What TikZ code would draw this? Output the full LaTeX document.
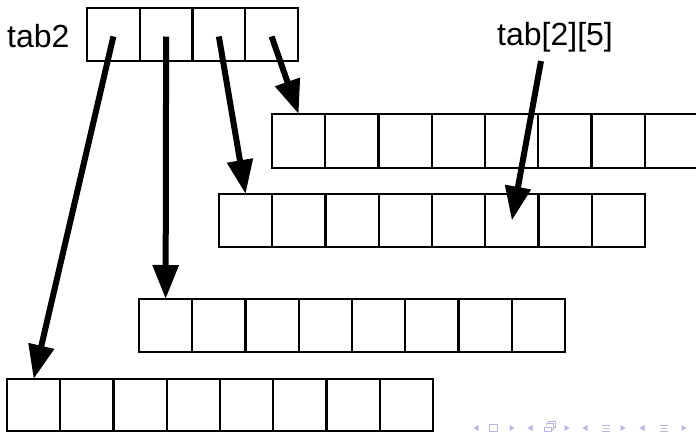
\documentclass[tikz,border=0pt]{standalone}
\usepackage{fontspec}
\setmainfont{Liberation Sans}
\usetikzlibrary{arrows.meta}
\definecolor{navcol}{rgb}{0.72,0.72,0.88}
\begin{document}
\begin{tikzpicture}[x=1pt,y=-1pt,
  cell/.style={draw,line width=2.4pt,minimum width=53.25pt,minimum height=53pt,inner sep=0pt,outer sep=0pt,anchor=north west},
  ptr/.style={line width=6pt,-{Triangle[length=34pt,width=25pt]}},
  lbl/.style={font=\fontsize{32}{38}\selectfont,inner sep=0pt,anchor=base west},
  navtri/.style={fill=navcol,draw=none},
  navln/.style={draw=navcol,line width=0.9pt}]
\useasboundingbox (0,0) rectangle (696,432);
% pointer array
\foreach \i in {1,...,4}
  \node[cell,minimum width=52.75pt] (t\i) at ({87+(\i-1)*52.75},8) {};
\node[lbl] (tablbl) at (7,47) {tab2};
% row arrays
\foreach \i in {1,...,8} {
  \node[cell,minimum height=54pt] (a\i) at ({272+(\i-1)*53.25},114) {};
  \node[cell] (b\i) at ({219+(\i-1)*53.25},194) {};
  \node[cell] (c\i) at ({139+(\i-1)*53.25},299) {};
  \node[cell,minimum height=52pt] (d\i) at ({7+(\i-1)*53.25},379) {};
}
\node[lbl] (elem) at (497,45) {tab[2][5]};
\coordinate (es) at (541,61);
% pointers
\draw[ptr] ([yshift=-2pt]t1.center) -- (d1.north);
\draw[ptr] ([yshift=-2pt]t2.center) -- (c1.north);
\draw[ptr] ([yshift=-2pt]t3.center) -- (b1.north);
\draw[ptr] ([yshift=-2pt]t4.center) -- (a1.north);
\draw[ptr] (es) -- (b6.center);
% beamer navigation symbols
\foreach \x in {476,530,585,642}
  \fill[navtri] (\x-2.5,428) -- (\x+2.5,425) -- (\x+2.5,431) -- cycle;
\foreach \x in {512,567,623,684}
  \fill[navtri] (\x+2.5,428) -- (\x-2.5,425) -- (\x-2.5,431) -- cycle;
\draw[navln] (489,424.5) rectangle (497,431);
\draw[navln] (544,427) rectangle (551,431.5);
\draw[navln] (546,425) -- (546,423) -- (553,423) -- (553,429.5) -- (551,429.5);
\draw[navln] (548,423) -- (548,421) -- (555,421) -- (555,427.5) -- (553,427.5);
\foreach \x in {606,664} {
  \draw[navln] (\x-4,425) -- (\x+4,425);
  \draw[navln] (\x-3,428) -- (\x+3,428);
  \draw[navln] (\x-4,431) -- (\x+4,431);
}
\end{tikzpicture}
\end{document}
